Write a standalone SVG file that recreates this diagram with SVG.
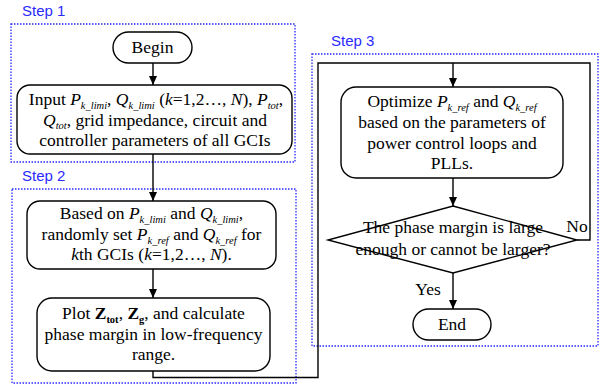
<svg xmlns="http://www.w3.org/2000/svg" width="602" height="388" viewBox="0 0 602 388">
<defs>
<marker id="arr" markerWidth="10" markerHeight="10" refX="9" refY="5" orient="auto" markerUnits="userSpaceOnUse">
<path d="M0,1 L9,5 L0,9 Z" fill="#000"/>
</marker>
<style>
.step{fill:none;stroke:#2a2aff;stroke-width:1.3;stroke-dasharray:1.5 1.5}
.lbl{font-family:"Liberation Sans",Arial,sans-serif;font-size:15px;fill:#2a2aff}
.node{fill:#fff;stroke:#000;stroke-width:1.4}
.t{font-family:"Liberation Serif","Times New Roman",serif;font-size:17.5px;fill:#000;text-anchor:middle}
.i{font-style:italic}
.s{font-size:10.5px}
.b{font-weight:bold}
.c{fill:none;stroke:#000;stroke-width:1.4}
</style>
</defs>
<rect x="0" y="0" width="602" height="388" fill="#fff"/>

<g id="steps">
<rect class="step" x="11" y="24" width="284" height="138"/>
<text class="lbl" x="22" y="16">Step 1</text>
<rect class="step" x="12" y="189" width="284" height="194"/>
<text class="lbl" x="22" y="181">Step 2</text>
<rect class="step" x="312" y="54" width="286" height="292"/>
<text class="lbl" x="331" y="46">Step 3</text>
</g>

<g id="connectors">
<line class="c" x1="153" y1="63" x2="153" y2="85" marker-end="url(#arr)"/>
<line class="c" x1="153" y1="154" x2="153" y2="201" marker-end="url(#arr)"/>
<line class="c" x1="153" y1="269" x2="153" y2="298" marker-end="url(#arr)"/>
<polyline class="c" points="153,371 153,377.5 318,377.5 318,63 590,63 590,240 577,240"/>
<line class="c" x1="453" y1="63" x2="453" y2="87" marker-end="url(#arr)"/>
<line class="c" x1="453" y1="178" x2="453" y2="206" marker-end="url(#arr)"/>
<line class="c" x1="453" y1="273" x2="453" y2="309" marker-end="url(#arr)"/>
<text class="t" x="577" y="232">No</text>
<text class="t" x="428" y="295">Yes</text>
</g>

<g id="begin">
<rect class="node" x="113" y="32" width="79" height="31" rx="15.5"/>
<text class="t" x="152.5" y="53">Begin</text>
</g>

<g id="input">
<rect class="node" x="17" y="85" width="275" height="69" rx="13"/>
<text class="t" x="156" y="105">Input <tspan class="i">P</tspan><tspan class="i s" dy="3.5">k_limi</tspan><tspan dy="-3.5">, </tspan><tspan class="i">Q</tspan><tspan class="i s" dy="3.5">k_limi</tspan><tspan dy="-3.5"> (</tspan><tspan class="i">k</tspan>=1,2…, <tspan class="i">N</tspan>), <tspan class="i">P</tspan><tspan class="i s" dy="3.5">tot</tspan><tspan dy="-3.5">,</tspan></text>
<text class="t" x="155" y="125.5"><tspan class="i">Q</tspan><tspan class="i s" dy="3.5">tot</tspan><tspan dy="-3.5">, grid impedance, circuit and</tspan></text>
<text class="t" x="155" y="146">controller parameters of all GCIs</text>
</g>

<g id="random">
<rect class="node" x="27" y="201" width="249" height="68" rx="13"/>
<text class="t" x="151.5" y="219">Based on <tspan class="i">P</tspan><tspan class="i s" dy="3.5">k_limi</tspan><tspan dy="-3.5"> and </tspan><tspan class="i">Q</tspan><tspan class="i s" dy="3.5">k_limi</tspan><tspan dy="-3.5">,</tspan></text>
<text class="t" x="151.5" y="240">randomly set <tspan class="i">P</tspan><tspan class="i s" dy="3.5">k_ref</tspan><tspan dy="-3.5"> and </tspan><tspan class="i">Q</tspan><tspan class="i s" dy="3.5">k_ref</tspan><tspan dy="-3.5"> for</tspan></text>
<text class="t" x="151.5" y="260"><tspan class="i">k</tspan>th GCIs (<tspan class="i">k</tspan>=1,2…, <tspan class="i">N</tspan>).</text>
</g>

<g id="plot">
<rect class="node" x="37" y="298" width="233" height="73" rx="15"/>
<text class="t" x="153.5" y="319">Plot <tspan class="b">Z</tspan><tspan class="b s" dy="3.5">tot</tspan><tspan dy="-3.5">, </tspan><tspan class="b">Z</tspan><tspan class="b s" dy="3.5">g</tspan><tspan dy="-3.5">, and calculate</tspan></text>
<text class="t" x="153.5" y="340">phase margin in low-frequency</text>
<text class="t" x="153.5" y="360">range.</text>
</g>

<g id="optimize">
<rect class="node" x="341" y="87" width="222" height="91" rx="15"/>
<text class="t" x="452" y="107">Optimize <tspan class="i">P</tspan><tspan class="i s" dy="3.5">k_ref</tspan><tspan dy="-3.5"> and </tspan><tspan class="i">Q</tspan><tspan class="i s" dy="3.5">k_ref</tspan></text>
<text class="t" x="452" y="128">based on the parameters of</text>
<text class="t" x="452" y="149">power control loops and</text>
<text class="t" x="452" y="169">PLLs.</text>
</g>

<g id="decision">
<polygon class="node" points="453,206 577,240 453,273 328,240"/>
<text class="t" x="453" y="233">The phase margin is large</text>
<text class="t" x="453" y="255">enough or cannot be larger?</text>
</g>

<g id="end">
<rect class="node" x="413" y="309" width="78" height="31" rx="15.5"/>
<text class="t" x="452" y="330">End</text>
</g>
</svg>
